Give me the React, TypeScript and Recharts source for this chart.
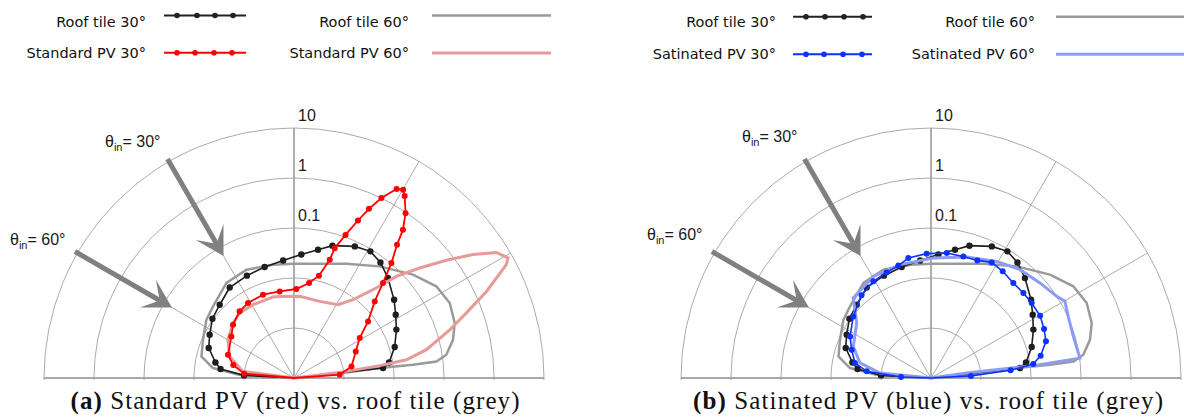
import React from "react";
import { RadarChart, Radar, PolarGrid, PolarAngleAxis, PolarRadiusAxis, Customized } from "recharts";

// angle of reflection in degrees (0 = right horizon, 180 = left horizon), value = BRDF (1/sr), radius is log10
const ROOF30_ANG = [0, 6.4, 9.3, 17.1, 25.3, 31.9, 38, 46.8, 53.2, 58.9, 65.2, 73.8, 79.4, 86.6, 95.3, 104.8, 114.7, 125.4, 135.4, 144, 152.8, 160.6, 168.8, 173, 177, 180];
const ROOF30_VAL = [0.0001, 0.00619, 0.00843, 0.0128, 0.0184, 0.0249, 0.0347, 0.0555, 0.0769, 0.0908, 0.0794, 0.057, 0.0407, 0.0299, 0.0229, 0.0198, 0.0179, 0.0166, 0.0122, 0.0104, 0.00787, 0.00643, 0.004, 0.00302, 0.001, 0.0001];

const ROOF60_ANG = [0, 4.8, 6.1, 6.7, 6.4, 6.6, 8.7, 13.5, 18.9, 25.7, 32.8, 41, 52.5, 65.4, 80.6, 90, 100.5, 113.7, 125.4, 138.5, 146.4, 157.2, 166.9, 173, 176.5, 180];
const ROOF60_VAL = [0.0001, 0.00024, 0.00113, 0.00532, 0.0248, 0.0738, 0.121, 0.186, 0.25, 0.286, 0.243, 0.142, 0.0652, 0.0327, 0.0208, 0.0193, 0.0201, 0.0232, 0.0215, 0.0145, 0.0127, 0.00942, 0.00794, 0.00429, 0.00126, 0.0001];

const PV30_ANG = [0, 4.1, 11.4, 23.3, 31.3, 37.4, 43.5, 46.9, 49.7, 52.3, 53.7, 55.9, 58.7, 59.9, 61.5, 64.1, 66.1, 67.9, 70.2, 72.6, 73.2, 76.3, 81, 88.5, 99.4, 110.4, 121.5, 129.2, 138.8, 146.4, 160.6, 168, 175, 180];
const PV30_VAL = [0.0001, 0.000824, 0.00149, 0.00221, 0.00345, 0.00731, 0.0168, 0.0402, 0.103, 0.234, 0.479, 0.955, 1.82, 2.25, 2.0, 1.0, 0.501, 0.251, 0.11, 0.0525, 0.0296, 0.0128, 0.00839, 0.00603, 0.0057, 0.006, 0.00575, 0.00525, 0.00417, 0.00319, 0.00251, 0.00174, 0.001, 0.0001];

const PV60_ANG = [0, 6.9, 7.2, 8.2, 9.2, 12.1, 17.2, 20.7, 24.2, 28.1, 29.3, 31.8, 34.6, 37.7, 41.2, 44.8, 48.2, 53, 59, 71.5, 86, 99.9, 104.5, 119.2, 129.9, 137.9, 149.9, 161.4, 172.6, 180];
const PV60_VAL = [0.0001, 0.000241, 0.00114, 0.0054, 0.019, 0.051, 0.182, 0.485, 1.66, 6.52, 8.09, 5.81, 2.23, 0.708, 0.219, 0.0769, 0.0234, 0.00912, 0.00513, 0.00413, 0.00433, 0.00453, 0.00472, 0.00479, 0.00494, 0.00439, 0.00336, 0.00227, 0.00107, 0.0001];

const SAT30_ANG = [0, 3, 5.5, 7.8, 11.5, 17.7, 23.4, 29.7, 36.7, 42.6, 49.1, 56.1, 62.3, 68.5, 75.1, 82.8, 92, 100.7, 106.2, 112.8, 120.8, 130, 141.6, 152.8, 160.4, 168.8, 174.1, 178, 180];
const SAT30_VAL = [0.0001, 0.00063, 0.00398, 0.0116, 0.0173, 0.0259, 0.0291, 0.0325, 0.0325, 0.0324, 0.0327, 0.0372, 0.0409, 0.0337, 0.0328, 0.033, 0.0308, 0.0277, 0.0219, 0.0195, 0.0178, 0.0145, 0.00964, 0.00661, 0.00483, 0.00355, 0.00196, 0.000398, 0.0001];

const SAT60_ANG = [0, 8, 6.9, 7.6, 16.3, 24.2, 29.8, 33, 41.1, 50.6, 60.6, 73.6, 88.9, 105.3, 119.6, 134.2, 143.5, 157.9, 168, 174.4, 180];
const SAT60_VAL = [0.0001, 0.000525, 0.0115, 0.101, 0.0925, 0.102, 0.122, 0.0995, 0.078, 0.0637, 0.0474, 0.0334, 0.0251, 0.0224, 0.0217, 0.017, 0.00705, 0.00476, 0.00283, 0.00106, 0.0001];

const SPOKES = [0, 30, 60, 90, 120, 150, 180];
const LOG_DOMAIN: [number, number] = [-4, 1];
const FLOOR = 0.00011;

const H = 380;
const CY = 378;
const R_OUT = 250;
const SANS = "'Liberation Sans', Arial, sans-serif";
const DEJAVU = "'DejaVu Sans', sans-serif";

type Series = { ang: number[]; val: number[]; color: string; width: number; dot?: number };

const toRows = (s: Series) => s.ang.map((a, i) => ({ a, v: Math.log10(s.val[i]) }));

// markers on every measured point except the ones sitting in the origin
const makeDot = (s: Series) => (p: any) => {
  if (p.index !== undefined && s.val[p.index] <= FLOOR) return <g key={`d${p.index}`} />;
  return <circle key={`d${p.index}`} cx={p.cx} cy={p.cy} r={s.dot} fill={s.color} />;
};

const RingTick = (p: any) => {
  const t = Math.round(p.payload.value);
  if (t < -1) return <g />;
  return (
    <text x={p.x + 4} y={p.y - 7} fontSize={16} fontFamily={SANS} fill="#1a1a1a">
      {String(10 ** t)}
    </text>
  );
};

const pol = (cx: number, r: number, deg: number) => {
  const t = (deg * Math.PI) / 180;
  return [cx + r * Math.cos(t), CY - r * Math.sin(t)];
};

function Arrow({ cx, deg }: { cx: number; deg: number }) {
  const [x0, y0] = pol(cx, 253, deg);
  const [xt, yt] = pol(cx, 141, deg);
  const [xn, yn] = pol(cx, 155, deg);
  const wing = (off: number) => {
    const a = (deg * Math.PI) / 180 + off;
    return [xt + 32 * Math.cos(a), yt - 32 * Math.sin(a)];
  };
  const [x1, y1] = wing(Math.PI / 6);
  const [x2, y2] = wing(-Math.PI / 6);
  return (
    <g>
      <line x1={x0} y1={y0} x2={xn} y2={yn} stroke="#808080" strokeWidth={5} />
      <polygon points={`${xt},${yt} ${x1},${y1} ${xn},${yn} ${x2},${y2}`} fill="#808080" />
    </g>
  );
}

function ThetaLabel({ x, y, deg }: { x: number; y: number; deg: number }) {
  return (
    <text x={x} y={y} fontSize={16} fontFamily={SANS} fill="#1a1a1a">
      θ
      <tspan fontSize={11} dy={4}>in</tspan>
      <tspan dy={-4}>= {deg}°</tspan>
    </text>
  );
}

function Layer({ s, cx, width, grid, children }: { s: Series; cx: number; width: number; grid?: boolean; children?: React.ReactNode }) {
  return (
    <div style={{ position: "absolute", left: 0, top: 0 }}>
      <RadarChart
        width={width}
        height={H}
        data={toRows(s)}
        cx={cx}
        cy={CY}
        innerRadius={0}
        outerRadius={R_OUT}
        startAngle={0}
        endAngle={180}
        margin={{ top: 0, right: 0, bottom: 0, left: 0 }}
      >
        {grid && <PolarGrid gridType="circle" polarAngles={SPOKES} stroke="#ababab" strokeWidth={1} />}
        {grid && <PolarGrid gridType="circle" polarAngles={[0, 90, 180]} polarRadius={[]} stroke="#9a9a9a" strokeWidth={1.3} />}
        <PolarAngleAxis dataKey="a" type="number" domain={[0, 180]} tick={false} axisLine={false} tickLine={false} />
        <PolarRadiusAxis
          angle={90}
          domain={LOG_DOMAIN}
          tickCount={6}
          axisLine={false}
          allowDataOverflow
          tick={grid ? RingTick : false}
        />
        {children}
        <Radar
          dataKey="v"
          stroke={s.color}
          strokeWidth={s.width}
          fill="none"
          fillOpacity={0}
          dot={s.dot ? makeDot(s) : false}
          isAnimationActive={false}
        />
      </RadarChart>
    </div>
  );
}

function Polar({ left, width, cx, series, labelY }: { left: number; width: number; cx: number; series: Series[]; labelY: [number, number] }) {
  const deco = (
    <Customized
      component={
        <g>
          <Arrow cx={cx} deg={120} />
          <Arrow cx={cx} deg={150} />
          <ThetaLabel x={cx - 189} y={labelY[0]} deg={30} />
          <ThetaLabel x={cx - 284} y={labelY[1]} deg={60} />
        </g>
      }
    />
  );
  return (
    <div style={{ position: "absolute", left, top: 0, width, height: H }}>
      {series.map((s, i) => (
        <Layer key={i} s={s} cx={cx} width={width} grid={i === 0}>
          {i === 0 ? deco : null}
        </Layer>
      ))}
    </div>
  );
}

function LegendRow({ x, y, label, color, width, dots, lineY, x1, x2 }: any) {
  return (
    <g>
      <text x={x} y={y} textAnchor="end" fontSize={14.5} fontFamily={DEJAVU} fill="#111">{label}</text>
      <line x1={x1} y1={lineY} x2={x2} y2={lineY} stroke={color} strokeWidth={width} />
      {(dots || []).map((d: number, i: number) => (
        <circle key={i} cx={d} cy={lineY} r={2.8} fill={color} />
      ))}
    </g>
  );
}

export default function App() {
  const grey: Series = { ang: ROOF60_ANG, val: ROOF60_VAL, color: "#9a9a9a", width: 2.5 };
  const black: Series = { ang: ROOF30_ANG, val: ROOF30_VAL, color: "#1e1e1e", width: 1.6, dot: 3.2 };
  const pink: Series = { ang: PV60_ANG, val: PV60_VAL, color: "#e79a9a", width: 3 };
  const red: Series = { ang: PV30_ANG, val: PV30_VAL, color: "#ff0000", width: 1.8, dot: 3 };
  const lblue: Series = { ang: SAT60_ANG, val: SAT60_VAL, color: "#8d9bf4", width: 3 };
  const blue: Series = { ang: SAT30_ANG, val: SAT30_VAL, color: "#0b33ff", width: 1.6, dot: 3 };

  return (
    <div style={{ position: "absolute", left: 0, top: 0, width: 1184, height: 419, background: "#fff", overflow: "hidden" }}>
      <Polar left={0} width={590} cx={294} series={[grey, black, pink, red]} labelY={[147, 245]} />
      <Polar left={600} width={584} cx={331} series={[grey, black, lblue, blue]} labelY={[142, 240]} />
      <svg width={1184} height={419} style={{ position: "absolute", left: 0, top: 0, pointerEvents: "none" }}>
        <LegendRow x={146} y={26.5} label="Roof tile 30°" color="#222" width={2} lineY={15.5} x1={164} x2={246} dots={[177, 197, 215, 233]} />
        <LegendRow x={409} y={26.5} label="Roof tile 60°" color="#9a9a9a" width={2.5} lineY={15.5} x1={432} x2={551} />
        <LegendRow x={146} y={57.5} label="Standard PV 30°" color="#ff0000" width={2} lineY={52.7} x1={164} x2={246} dots={[177, 195, 214, 232]} />
        <LegendRow x={409} y={57.5} label="Standard PV 60°" color="#e79a9a" width={3} lineY={53} x1={432} x2={551} />
        <LegendRow x={776} y={26.5} label="Roof tile 30°" color="#222" width={2} lineY={16.7} x1={793} x2={872} dots={[806, 825, 844, 863]} />
        <LegendRow x={1035} y={26.5} label="Roof tile 60°" color="#9a9a9a" width={2.5} lineY={16.7} x1={1056} x2={1184} />
        <LegendRow x={776} y={58.5} label="Satinated PV 30°" color="#0b33ff" width={2} lineY={54.3} x1={793} x2={872} dots={[806, 824, 843, 862]} />
        <LegendRow x={1035} y={58.5} label="Satinated PV 60°" color="#8d9bf4" width={3} lineY={54.3} x1={1056} x2={1184} />
        <text x={295} y={409} textAnchor="middle" fontSize={25} fontFamily="'Liberation Serif', serif" fill="#111" textLength={449}>
          <tspan fontWeight="bold">(a)</tspan> Standard PV (red) vs. roof tile (grey)
        </text>
        <text x={928} y={409} textAnchor="middle" fontSize={25} fontFamily="'Liberation Serif', serif" fill="#111" textLength={470}>
          <tspan fontWeight="bold">(b)</tspan> Satinated PV (blue) vs. roof tile (grey)
        </text>
      </svg>
    </div>
  );
}
